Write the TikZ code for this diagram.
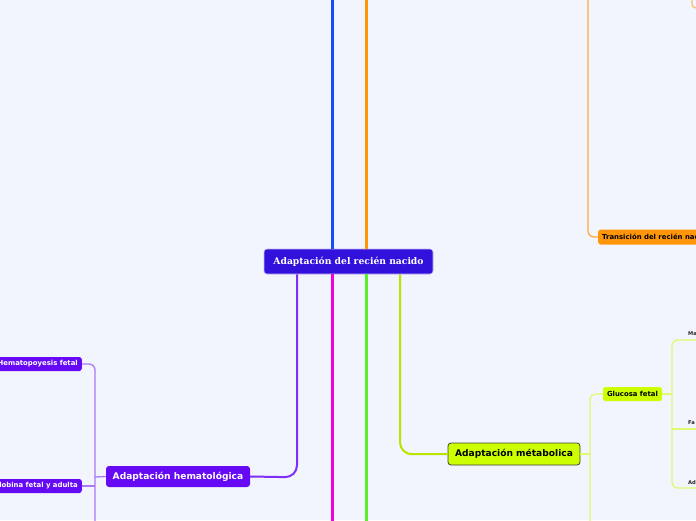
\documentclass[tikz,border=0pt]{standalone}
\usepackage{fontspec}
\setmainfont{DejaVu Sans}
\newfontfamily\rootfont{DejaVu Serif}
\usepackage{tikz}
\usetikzlibrary{calc}

\definecolor{bgcol}{RGB}{242,245,253}
\definecolor{rootcol}{RGB}{51,17,221}
\definecolor{bluecol}{RGB}{20,75,255}
\definecolor{orangecol}{RGB}{255,150,10}
\definecolor{violetcol}{RGB}{102,10,245}
\definecolor{magentacol}{RGB}{240,0,220}
\definecolor{greencol}{RGB}{90,240,40}
\definecolor{limecol}{RGB}{204,255,0}
\definecolor{palelime}{RGB}{222,250,110}

\tikzset{
  topic/.style={rounded corners=3pt, inner sep=0pt, text=white,
    font=\bfseries\fontsize{9.1}{11}\selectfont},
  subtopic/.style={rounded corners=2.5pt, inner xsep=4pt, inner ysep=0pt,
    minimum height=14pt, text=white, font=\bfseries\fontsize{6.9}{8}\selectfont},
  leaf/.style={inner sep=0pt, text=black!85, font=\bfseries\fontsize{5.2}{6}\selectfont},
  branch/.style={line width=3pt},
  twig/.style={line width=1.3pt, rounded corners=6pt}
}

\begin{document}
\begin{tikzpicture}[x=1pt,y=-1pt]
  \useasboundingbox (0,0) rectangle (696,520);
  \clip (0,0) rectangle (696,520);
  \fill[bgcol] (0,0) rectangle (696,520);

  \node[topic, fill=rootcol, draw=white!70!rootcol, line width=0.6pt,
    minimum width=169pt, minimum height=25pt,
    font=\rootfont\bfseries\fontsize{9.2}{11}\selectfont] (root) at (348.5,261.5)
    {Adaptación del recién nacido};
  \node[topic, fill=violetcol, minimum width=144pt, minimum height=21pt] (hem) at (178,476.5)
    {Adaptación hematológica};
  \node[topic, fill=limecol, draw=black!75, line width=0.8pt, text=black,
    minimum width=132pt, minimum height=22pt] (met) at (514,454)
    {Adaptación métabolica};
  \node[subtopic, fill=limecol, text=black, minimum width=59pt] (glu) at (632.5,394) {Glucosa fetal};
  \node[subtopic, fill=violetcol, anchor=east] (hpf) at (82,364) {Hematopoyesis fetal};
  \node[subtopic, fill=violetcol, anchor=east] (hga) at (82,486) {Hemoglobina fetal y adulta};
  \node[subtopic, fill=orangecol, text=black, anchor=west, minimum height=15pt] (tra) at (598,237)
    {Transición del recién nacido};

  \node[leaf, anchor=west] (ma) at (688,334) {Ma};
  \node[leaf, anchor=west] (fa) at (688,423) {Fa};
  \node[leaf, anchor=west] (ad) at (688,483) {Ad};

  \coordinate (topb) at (332,-5);
  \coordinate (topo) at (366,-5);
  \coordinate (topt) at (588,-5);
  \coordinate (topx) at (692,-5);
  \coordinate (botm) at (332,525);
  \coordinate (botg) at (366,525);
  \coordinate (both) at (95,525);
  \coordinate (botm2) at (590,525);

  \draw[branch, bluecol] ([xshift=-16.5pt]root.north) -- (topb);
  \draw[branch, orangecol] ([xshift=17.5pt]root.north) -- (topo);
  \draw[branch, magentacol] ([xshift=-16.5pt]root.south) -- (botm);
  \draw[branch, greencol] ([xshift=17.5pt]root.south) -- (botg);
  \draw[line width=2pt, violetcol!85, rounded corners=12pt]
    ([xshift=-51.5pt]root.south) -- ++(0,203) -- (hem.east);
  \draw[line width=2pt, limecol!90!black, rounded corners=12pt]
    ([xshift=51.5pt]root.south) -- ++(0,180) -- (met.west);

  \draw[twig, orangecol!80] (topt) -- (588,237) -- (tra.west);
  \draw[twig, orangecol!60, rounded corners=4pt] (topx) -- (692,8) -- (700,8);

  \draw[twig, violetcol!55] (hem.west) -- (95,477);
  \draw[twig, violetcol!55] (both) -- (95,364) -- (hpf.east);
  \draw[twig, violetcol!55] (95,486) -- (hga.east);

  \draw[twig, palelime] (met.east) -- (590,454);
  \draw[twig, palelime] (botm2) -- (590,394) -- (glu.west);
  \draw[twig, palelime] (glu.east) -- (672,394);
  \draw[twig, palelime] (700,340) -- (672,340) -- (672,488) -- (700,488);
  \draw[twig, palelime] (672,429) -- (700,429);
\end{tikzpicture}
\end{document}
